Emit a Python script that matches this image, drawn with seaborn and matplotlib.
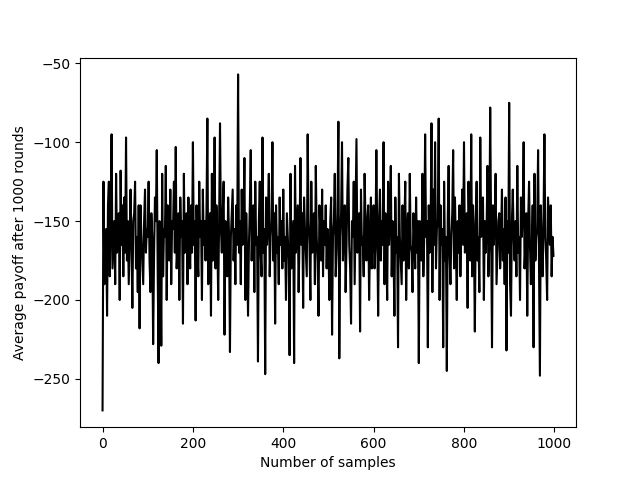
import numpy as np
import pandas as pd
import matplotlib
matplotlib.use("Agg")
import matplotlib.pyplot as plt
import seaborn as sns

step = 2
block_0 = [-270, -125, -190, -160, -155, -210, -140, -125, -185, -150,
           -95, -180, -165, -150, -190, -120, -170, -155, -145, -200,
           -118, -165, -140, -185, -135, -170, -97, -175, -150, -190,
           -160, -130, -165, -205, -150, -145, -125, -180, -160, -195,
           -140, -218, -140, -160, -175, -190, -150, -130, -170, -155]
block_1 = [-160, -125, -175, -195, -145, -160, -228, -172, -135, -150,
           -105, -180, -240, -150, -165, -229, -120, -185, -155, -160,
           -115, -200, -140, -165, -175, -130, -190, -150, -155, -125,
           -170, -103, -180, -165, -145, -200, -135, -160, -150, -215,
           -120, -170, -155, -145, -190, -135, -165, -180, -140, -170]
block_2 = [-100, -165, -150, -213, -140, -170, -185, -125, -160, -150,
           -200, -130, -165, -150, -175, -145, -85, -190, -160, -145,
           -210, -120, -175, -165, -97, -180, -140, -160, -200, -150,
           -88, -155, -170, -145, -125, -222, -150, -175, -185, -135,
           -160, -233, -160, -145, -130, -175, -155, -190, -140, -165]
block_3 = [-57, -170, -150, -190, -130, -165, -155, -110, -200, -145,
           -170, -210, -165, -140, -105, -175, -150, -140, -195, -125,
           -165, -160, -239, -150, -125, -170, -185, -97, -170, -155,
           -247, -135, -165, -150, -120, -185, -160, -150, -100, -175,
           -145, -215, -140, -170, -160, -190, -135, -165, -150, -180]
block_4 = [-130, -175, -160, -200, -145, -160, -175, -235, -120, -180,
           -165, -150, -240, -115, -170, -155, -140, -195, -160, -110,
           -165, -145, -205, -135, -155, -170, -185, -95, -150, -165,
           -200, -125, -170, -150, -145, -190, -115, -160, -175, -210,
           -140, -155, -175, -130, -185, -150, -165, -140, -180, -155]
block_5 = [-165, -200, -150, -135, -222, -160, -150, -120, -185, -170,
           -145, -87, -237, -160, -145, -100, -175, -155, -140, -195,
           -165, -130, -110, -165, -180, -215, -150, -160, -125, -190,
           -145, -98, -170, -160, -145, -220, -130, -165, -160, -185,
           -120, -150, -175, -150, -140, -200, -165, -135, -180, -155]
block_6 = [-140, -180, -165, -105, -160, -210, -150, -130, -175, -150,
           -165, -100, -190, -145, -170, -200, -125, -165, -150, -115,
           -185, -150, -170, -210, -135, -170, -160, -230, -120, -160,
           -175, -190, -140, -175, -155, -125, -200, -155, -145, -180,
           -120, -165, -170, -195, -145, -160, -180, -135, -170, -150]
block_7 = [-240, -150, -165, -175, -120, -185, -160, -95, -160, -150,
           -230, -140, -170, -160, -88, -195, -130, -165, -100, -180,
           -155, -150, -85, -200, -140, -165, -155, -230, -125, -175,
           -160, -245, -150, -115, -170, -190, -160, -145, -105, -180,
           -135, -165, -200, -150, -170, -140, -185, -155, -130, -165]
block_8 = [-100, -170, -155, -145, -205, -125, -160, -175, -95, -185,
           -140, -160, -220, -150, -125, -175, -160, -195, -97, -160,
           -150, -135, -200, -150, -170, -155, -115, -185, -165, -78,
           -155, -230, -140, -165, -150, -120, -190, -170, -150, -145,
           -180, -160, -130, -175, -155, -190, -135, -232, -150, -170]
block_9 = [-75, -190, -210, -150, -130, -160, -175, -150, -185, -115,
           -170, -160, -200, -135, -160, -145, -100, -180, -165, -145,
           -210, -150, -125, -165, -190, -170, -140, -230, -120, -175,
           -160, -155, -105, -180, -248, -140, -165, -185, -150, -95,
           -160, -175, -200, -135, -150, -165, -140, -185, -160, -172]

payoff = (block_0 + block_1 + block_2 + block_3 + block_4 + block_5 + block_6 + block_7
          + block_8 + block_9)
samples = np.arange(len(payoff)) * step

df = pd.DataFrame({"samples": samples, "payoff": payoff})

fig, ax = plt.subplots(figsize=(6.4, 4.8), dpi=100)
sns.lineplot(data=df, x="samples", y="payoff", color="black", linewidth=1.5,
             estimator=None, ax=ax)
ax.set_xlabel("Number of samples")
ax.set_ylabel("Average payoff after 1000 rounds")
fig.savefig("out.png", dpi=100)
